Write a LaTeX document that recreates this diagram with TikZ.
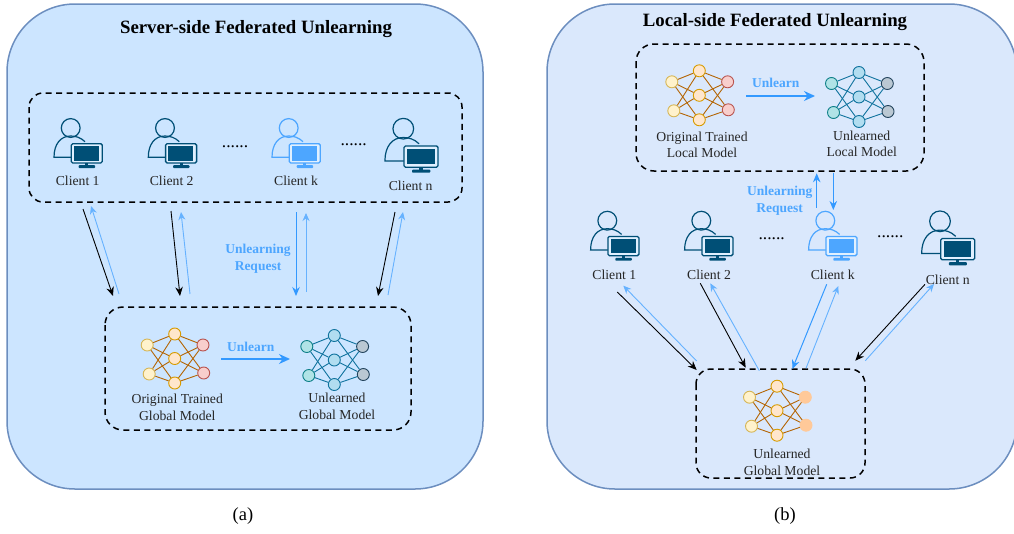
\documentclass[tikz,border=0pt]{standalone}
\usepackage{fontspec}
\setmainfont{Liberation Serif}
\usetikzlibrary{arrows.meta}
\definecolor{paneA}{HTML}{CCE5FF}
\definecolor{paneB}{HTML}{DAE8FC}
\definecolor{paneline}{HTML}{6C8EBF}
\definecolor{darkicon}{HTML}{004F76}
\definecolor{brighticon}{HTML}{4DA6FF}
\definecolor{brightblue}{HTML}{3399FF}
\definecolor{softblue}{HTML}{66B2FF}
\definecolor{inwarm}{HTML}{FFF2CC}
\definecolor{inwarmline}{HTML}{D6B656}
\definecolor{hidwarm}{HTML}{FFE6CC}
\definecolor{hidwarmline}{HTML}{D79B00}
\definecolor{outwarm}{HTML}{F8CECC}
\definecolor{outwarmline}{HTML}{B85450}
\definecolor{linkwarm}{HTML}{B46504}
\definecolor{incool}{HTML}{B0E3E6}
\definecolor{incoolline}{HTML}{0E8088}
\definecolor{hidcool}{HTML}{B1DDF0}
\definecolor{hidcoolline}{HTML}{10739E}
\definecolor{outcool}{HTML}{BAC8D3}
\definecolor{outcoolline}{HTML}{23445D}
\definecolor{linkcool}{HTML}{10739E}
\definecolor{outglobal}{HTML}{FFC999}
\tikzset{
  iconcol/.store in=\iconcol, iconcol=darkicon,
  clienticon/.pic={
    \draw[\iconcol,line width=1.2pt] (0,0) circle (9.4);
    \draw[\iconcol,line width=1.2pt] (14.3,13.7) .. controls (10,9.5) and (5,8) .. (0,8)
      .. controls (-10,8) and (-16.7,16) .. (-16.7,29.3) -- (0.6,29.3);
    \draw[\iconcol,line width=1.3pt,fill=white!80!softblue,rounded corners=1.5] (0.6,15.7) rectangle (31.6,35);
    \fill[\iconcol] (3.4,18) rectangle (28.4,32.5);
    \fill[\iconcol] (14.5,35) rectangle (17.5,38);
    \fill[\iconcol,rounded corners=0.8] (8,37.2) rectangle (24.5,40);
  },
  neuron/.style={circle,inner sep=0pt,minimum size=12,line width=0.9pt},
  warmnet/.style={
    inlayer/.style={neuron,fill=inwarm,draw=inwarmline},
    hidlayer/.style={neuron,fill=hidwarm,draw=hidwarmline},
    outlayer/.style={neuron,fill=outwarm,draw=outwarmline},
    linkline/.style={draw=linkwarm,line width=0.9pt},
  },
  coolnet/.style={
    inlayer/.style={neuron,fill=incool,draw=incoolline},
    hidlayer/.style={neuron,fill=hidcool,draw=hidcoolline},
    outlayer/.style={neuron,fill=outcool,draw=outcoolline},
    linkline/.style={draw=linkcool,line width=0.9pt},
  },
  globalnet/.style={
    warmnet,
    outlayer/.style={neuron,fill=outglobal,draw=outglobal},
  },
  nnet/.pic={
    \node[inlayer] (i1) at (-27.5,-13.5) {};
    \node[inlayer] (i2) at (-25.5,15.5) {};
    \node[hidlayer] (h1) at (0,-24.5) {};
    \node[hidlayer] (h2) at (0,0) {};
    \node[hidlayer] (h3) at (0,24.5) {};
    \node[outlayer] (o1) at (28.3,-13.5) {};
    \node[outlayer] (o2) at (29,14.5) {};
    \foreach \h in {h1,h2,h3} {
      \foreach \a in {i1,i2} \draw[linkline] (\a) -- (\h);
      \foreach \b in {o1,o2} \draw[linkline] (\h) -- (\b);
    }
  },
  pane/.style={draw=paneline,line width=1.5pt,rounded corners=68},
  dashbox/.style={draw=black,line width=1.5pt,dash pattern=on 6pt off 4.5pt},
  thinblack/.style={black,line width=0.9pt,-{Stealth[length=9pt,width=7.5pt]}},
  thinsoft/.style={softblue,line width=0.9pt,-{Stealth[length=8pt,width=7pt]}},
  thinbright/.style={brightblue,line width=1pt,-{Stealth[length=9pt,width=7.5pt]}},
  thickbright/.style={brightblue,line width=1.6pt,-{Stealth[length=11pt,width=10pt]}},
  label/.style={font=\fontsize{13.7}{16.6}\selectfont,align=center,text=black!85,inner sep=0pt},
  bluelabel/.style={font=\bfseries\fontsize{13.5}{17}\selectfont,align=center,text=brighticon,inner sep=0pt},
  titlelabel/.style={font=\bfseries\fontsize{18.8}{22}\selectfont,inner sep=0pt},
  dotlabel/.style={font=\fontsize{17.5}{20}\selectfont,inner sep=0pt},
  caption/.style={font=\fontsize{18.5}{20}\selectfont,inner sep=0pt},
}
\begin{document}
\begin{tikzpicture}[x=1pt,y=-1pt]
  \useasboundingbox (0,0) rectangle (1014,533);

  % panels
  \draw[pane,fill=paneA] (7,4) rectangle (483,489);
  \draw[pane,fill=paneB] (547,4) rectangle (1017,489);
  \node[titlelabel] (titleA) at (256,29) {Server-side Federated Unlearning};
  \node[titlelabel] (titleB) at (775,22.5) {Local-side Federated Unlearning};
  \node[caption] (capA) at (243,516) {(a)};
  \node[caption] (capB) at (785,516) {(b)};

  % dashed boxes
  \draw[dashbox,rounded corners=14] (29,93) rectangle (462,202);
  \draw[dashbox,rounded corners=18] (105,307) rectangle (411,430);
  \draw[dashbox,rounded corners=18] (636,44) rectangle (924,171);
  \draw[dashbox,rounded corners=15] (696,369) rectangle (865,478);

  % clients
  \pic (ca1) at (70.7,128) {clienticon};
  \pic (ca2) at (165,128) {clienticon};
  \pic[iconcol=brighticon] (cak) at (288.7,128) {clienticon};
  \pic[scale=1.1] (can) at (403.3,128.7) {clienticon};
  \pic (cb1) at (607.3,220.7) {clienticon};
  \pic (cb2) at (701.3,220.7) {clienticon};
  \pic[iconcol=brighticon] (cbk) at (825.3,220.7) {clienticon};
  \pic[scale=1.1] (cbn) at (940,221.3) {clienticon};

  \node[label] (la1) at (77.7,181.3) {Client 1};
  \node[label] (la2) at (171.7,181.3) {Client 2};
  \node[label] (lak) at (296,181.3) {Client k};
  \node[label] (lan) at (410.7,186.3) {Client n};
  \node[label] (lb1) at (614.3,275.3) {Client 1};
  \node[label] (lb2) at (709,275.3) {Client 2};
  \node[label] (lbk) at (832.7,275.3) {Client k};
  \node[label] (lbn) at (947.7,279.7) {Client n};

  \node[dotlabel] (dotsa1) at (235,147) {......};
  \node[dotlabel] (dotsa2) at (353.7,144.3) {......};
  \node[dotlabel] (dotsb1) at (771.7,239) {......};
  \node[dotlabel] (dotsb2) at (890.3,237) {......};

  % networks
  \pic[warmnet] (netA) at (174.7,358.5) {nnet};
  \pic[coolnet] (netB) at (334.3,360) {nnet};
  \pic[warmnet] (netC) at (699.3,95.3) {nnet};
  \pic[coolnet] (netD) at (859,97) {nnet};
  \pic[globalnet] (netE) at (777,410.7) {nnet};

  \node[label] (labA) at (177.3,407.5) {Original Trained\\Global Model};
  \node[label] (labB) at (337,406.5) {Unlearned\\Global Model};
  \node[label] (labC) at (702,145) {Original Trained\\Local Model};
  \node[label] (labD) at (861.7,143.7) {Unlearned\\Local Model};
  \node[label] (labE) at (782,462.3) {Unlearned\\Global Model};

  \node[bluelabel] (unlA) at (250.7,346.7) {Unlearn};
  \node[bluelabel] (unlB) at (775.7,83.3) {Unlearn};
  \node[bluelabel] (reqA) at (258,259) {Unlearning\\Request};
  \node[bluelabel] (reqB) at (779.7,201) {Unlearning\\Request};

  % arrow ends
  \foreach \n/\x/\y in {
    a1/83/209, a2/113/296, a3/119/294, a4/91/206, a5/171/211, a6/180/296, a7/190/294, a8/181/212,
    a9/296/212, a10/296/296, a11/306/292, a12/306/213, a13/395/212, a14/378/296, a15/388/295, a16/403/212,
    a17/221.3/359, a18/290/359,
    b1/617.3/292, b2/696.7/370, b3/696.7/361, b4/623.3/285.7, b5/700.3/283.3, b6/745.7/367.7,
    b7/759.3/370.7, b8/710.3/283.3, b9/826.7/284.3, b10/792.3/369, b11/806/368.3, b12/838.3/286,
    b13/925/284.3, b14/855.3/360.7, b15/865.3/360.7, b16/934/284,
    b17/746/96, b18/815/96, b19/816.7/207.7, b20/816.7/173.3, b21/833.3/172.7, b22/833.3/210}
    \coordinate (\n) at (\x,\y);

  % arrows
  \foreach \s/\t in {a1/a2,a5/a6,a13/a14,b1/b2,b5/b6,b13/b14}
    \draw[thinblack] (\s) -- (\t);
  \foreach \s/\t in {a3/a4,a7/a8,a11/a12,a15/a16,b3/b4,b7/b8,b11/b12,b15/b16}
    \draw[thinsoft] (\s) -- (\t);
  \foreach \s/\t in {a9/a10,b9/b10,b19/b20,b21/b22}
    \draw[thinbright] (\s) -- (\t);
  \foreach \s/\t in {a17/a18,b17/b18}
    \draw[thickbright] (\s) -- (\t);
\end{tikzpicture}
\end{document}
